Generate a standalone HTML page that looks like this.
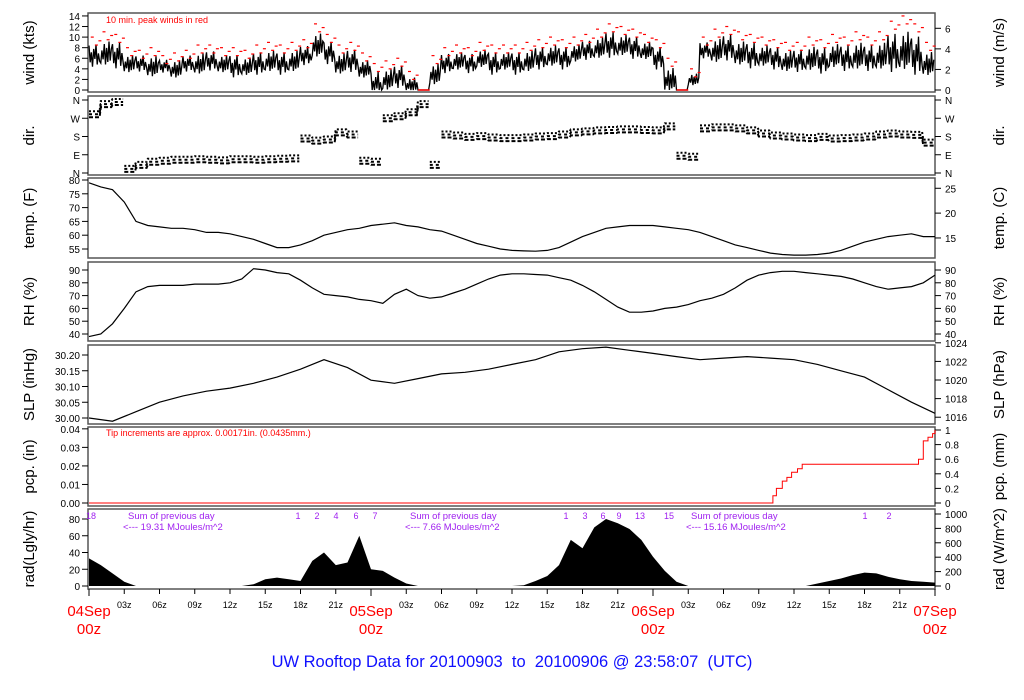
<!DOCTYPE html>
<html><head><meta charset="utf-8"><style>
body{margin:0;background:#fff;}
svg{display:block;font-family:"Liberation Sans",sans-serif;}
</style></head><body>
<svg id="c" width="1024" height="700" viewBox="0 0 1024 700"></svg>
<script>
const hours=[];for(let i=0;i<=72;i++)hours.push(i);
const windMean=[6.5,7,6.5,5,5,4.5,4.5,4,5,5,5.5,5,4.5,4.5,5,5.5,5,5.5,6.5,8.5,7,5,5.5,4,1,2,2.5,1,0,3,5,5.5,5,6,5,5.5,5,5.5,6,6.5,6,7,7.5,8,8.5,8.5,8,7.5,6,2,0,2,7.5,7.5,8,7,6.5,6.5,6,5.5,5.5,6,5.5,6.5,6,6.5,6,6.5,7,7.5,6.5,5];
const windPeak=[10,11,10.5,8,7.5,8,6.5,7,7.5,8.5,8.5,8,8,7.5,8.5,9,8.5,9,9.5,12.5,10.5,8.5,9,7,5,5.5,6,3.5,0,6.5,8,8.5,8,9,8.5,8.5,8.5,9,9.5,10,9.5,10,10.5,11.5,12.5,12,11.5,10.5,9.5,6,0,4,10,11.5,12,11,10.5,10,9.5,9,9,10,9.5,10.5,10,11,10,11,13,14,12.5,9];
const dirDeg=[290,340,350,20,40,55,60,65,65,68,65,62,68,68,65,68,70,72,170,160,165,200,190,60,55,270,280,300,340,40,190,185,178,182,175,172,172,175,180,182,190,200,205,210,212,215,215,212,210,230,85,80,220,225,225,220,210,195,185,180,175,172,178,170,172,175,180,190,195,190,188,150];
const tempF=[79,77.5,76.5,72,65,63.5,63,62.5,62.5,62,61,61,60.5,59.5,58.5,57,55.5,55.5,56.5,58,60,61,62,62.5,63.5,64,64.5,63.5,63,62,61.5,60,58.5,57,56,55,54.5,54.3,54.2,54.5,55.5,57.5,59.5,61,62.5,63,63.5,63.5,63.5,63,62.5,62,61,59.5,58,56.5,55.5,54.5,53.5,53,52.8,52.8,53,53.5,54.5,56,57.5,58.5,59.5,60,60.5,59.5,59.5];
const rhPct=[38,40,48,60,73,77,78,78,78,79,79,79,80,83,91,90,88,87,82,76,71,70,69,67,66,64,71,75,70,68,69,72,75,79,83,86,87,87,86.5,86,84,82,78,73,67,61,57,57,58,60,61,63,66,68,71,76,82,86,88,89,89,88,87,86,85,83,80,77,75,76,77,80,86];
const slpHours=[0,2,4,6,8,10,12,14,16,18,20,22,24,26,28,30,32,34,36,38,40,42,44,46,48,50,52,54,56,58,60,62,64,66,68,70,72];
const slpIn=[30.00,29.99,30.02,30.05,30.07,30.085,30.095,30.11,30.13,30.155,30.185,30.16,30.12,30.11,30.125,30.14,30.145,30.155,30.17,30.185,30.21,30.22,30.225,30.215,30.205,30.195,30.185,30.19,30.195,30.19,30.185,30.17,30.15,30.13,30.09,30.05,30.015];
const pcpHours=[0,57.8,58.2,58.5,59,59.4,59.8,60.3,60.7,70.3,70.6,71,71.4,71.8,72];
const pcpMM=[0,0,0.1,0.2,0.3,0.35,0.42,0.47,0.53,0.53,0.6,0.85,0.9,0.95,1.0];
const radLy=[33,25,15,5,0,0,0,0,0,0,0,0,0,0,2,8,10,8,6,30,40,25,28,60,20,18,10,3,0,0,0,0,0,0,0,0,0,1,6,12,25,55,45,70,80,75,68,55,35,18,5,0,0,0,0,0,0,0,0,0,0,0,3,6,9,13,16,15,11,8,6,5,4];
const hourTicks=[3,6,9,12,15,18,21,27,30,33,36,39,42,45,51,54,57,60,63,66,69];
const hourTickLabels=["03z","06z","09z","12z","15z","18z","21z","03z","06z","09z","12z","15z","18z","21z","03z","06z","09z","12z","15z","18z","21z"];
const dayTicks=[0,24,48,72];
const dayLabels=["04Sep","05Sep","06Sep","07Sep"];

const NS="http://www.w3.org/2000/svg";
const svg=document.getElementById('c');
const X=h=>89+h*(846/72);
function el(tag,attrs,parent){const e=document.createElementNS(NS,tag);for(const k in attrs)e.setAttribute(k,attrs[k]);(parent||svg).appendChild(e);return e;}
function txt(s,x,y,size,anchor,fill,rot){const t=el('text',{x:x,y:y,'font-size':size,'text-anchor':anchor||'start',fill:fill||'#000'});if(rot)t.setAttribute('transform','rotate(-90 '+x+' '+y+')');t.textContent=s;return t;}

const panels=[
 {n:'wind',t:13,b:92,l:'wind (kts)',r:'wind (m/s)'},
 {n:'dir',t:96,b:175,l:'dir.',r:'dir.'},
 {n:'temp',t:178,b:258,l:'temp. (F)',r:'temp. (C)'},
 {n:'rh',t:262,b:341,l:'RH (%)',r:'RH (%)'},
 {n:'slp',t:345,b:424,l:'SLP (inHg)',r:'SLP (hPa)'},
 {n:'pcp',t:427,b:506,l:'pcp. (in)',r:'pcp. (mm)'},
 {n:'rad',t:509,b:589,l:'rad(Lgly/hr)',r:'rad (W/m^2)'}
];
panels.forEach(p=>{
 const r=el('rect',{x:88,y:p.t,width:847,height:p.b-p.t,fill:'none',stroke:'#555','stroke-width':1.5});
 
 
 const m=(p.t+p.b)/2;
 const a=txt(p.l,34,m,15,'middle','#000',true);
 
 
 const b=txt(p.r,1004,m,15,'middle','#000',true);
 
 
});
function lt(y,s){el('line',{x1:82,y1:y,x2:88,y2:y,stroke:'#000'});const t=txt(s,80,y+4,10,'end');}
function rt(y,s){el('line',{x1:935,y1:y,x2:941,y2:y,stroke:'#000'});const t=txt(s,945,y+4,10,'start');}

const yW=v=>90-v*5.29, yD=d=>173-d/360*73, yT=f=>180+(80-f)*2.76, yR=r=>270+(90-r)*1.28,
 yS=p=>355+(30.20-p)*315, yP=mm=>503-mm*73, yRad=l=>586-l*0.8375;
for(let v=0;v<=14;v+=2)lt(yW(v),v);
for(let v=0;v<=6;v+=2)rt(yW(v*1.944),v);
['N','E','S','W','N'].forEach((s,i)=>{lt(yD(i*90),s);rt(yD(i*90),s);});
for(let v=55;v<=80;v+=5)lt(yT(v),v);
[15,20,25].forEach(c=>rt(yT(c*1.8+32),c));
for(let v=40;v<=90;v+=10){lt(yR(v),v);rt(yR(v),v);}
[30.00,30.05,30.10,30.15,30.20].forEach(v=>lt(yS(v),v.toFixed(2)));
[1016,1018,1020,1022,1024].forEach(v=>rt(yS(v*0.02953),v));
[0,0.01,0.02,0.03,0.04].forEach(v=>lt(yP(v*25.4),v.toFixed(2)));
[0,0.2,0.4,0.6,0.8,1].forEach(v=>rt(yP(v),v));
for(let v=0;v<=80;v+=20)lt(yRad(v),v);
for(let v=0;v<=1000;v+=200)rt(yRad(v/11.63),v);

const jig=[0.9,-0.6,0.3,-1,0.6,-0.3,1,-0.8,0.2,-0.5,0.7,-0.9,0.4,-0.7];
let pts=[];
windMean.forEach((m,h)=>{const amp=Math.max(0,(windPeak[h]-m))*0.6;
 for(let k=0;k<10;k++){const j=jig[(h*7+k)%jig.length];const v=m===0?0:Math.max(0,m+j*amp);pts.push(X(h+k/10).toFixed(1)+','+yW(v).toFixed(1));}});
const wl=el('polyline',{points:pts.join(' '),fill:'none',stroke:'#000','stroke-width':1.3});


windPeak.forEach((p,h)=>{
 if(p===0){const z=el('line',{x1:X(h),y1:yW(0),x2:X(h+1),y2:yW(0),stroke:'red','stroke-width':1.5});return;}
 [0.15,0.5,0.8].forEach((o,i)=>{const dv=p-[0,1.5,0.7][i];const d=el('line',{x1:X(h+o),y1:yW(dv),x2:X(h+o)+3,y2:yW(dv),stroke:'red','stroke-width':1.2});
 });
});
const wn=txt('10 min. peak winds in red',106,23,9,'start','red');


const off=[-3,0,3];
off.forEach((o,oi)=>{
 let seg=[];
 function flushDir(){if(seg.length>1){const d=el('polyline',{points:seg.join(' '),fill:'none',stroke:'#000','stroke-width':2,'stroke-dasharray':(2+oi)+' '+(2+oi%2)});}seg=[];}
 dirDeg.forEach((d,h)=>{if(h>0&&Math.abs(d-dirDeg[h-1])>60)flushDir();seg.push(X(h).toFixed(1)+','+(yD(d)+o).toFixed(1));seg.push(X(h+0.9).toFixed(1)+','+(yD(d)+o).toFixed(1));});
 flushDir();
});

function line(vals,xs,yf,name,color){const p=vals.map((v,i)=>X(xs[i]).toFixed(1)+','+yf(v).toFixed(1)).join(' ');const l=el('polyline',{points:p,fill:'none',stroke:color||'#000','stroke-width':1.2});return l;}
line(tempF,hours,yT,'temperature-line');
line(rhPct,hours,yR,'humidity-line');
line(slpIn,slpHours,yS,'pressure-line');
let pp=[];pcpMM.forEach((v,i)=>{if(i>0)pp.push(X(pcpHours[i]).toFixed(1)+','+yP(pcpMM[i-1]).toFixed(1));pp.push(X(pcpHours[i]).toFixed(1)+','+yP(v).toFixed(1));});
const pl=el('polyline',{points:pp.join(' '),fill:'none',stroke:'red','stroke-width':1});

const pn=txt('Tip increments are approx. 0.00171in. (0.0435mm.)',106,436,9,'start','red');

let rp=[X(0)+','+yRad(0)];radLy.forEach((v,h)=>rp.push(X(h).toFixed(1)+','+yRad(v).toFixed(1)));rp.push(X(72)+','+yRad(0));
const ra=el('polygon',{points:rp.join(' '),fill:'#000'});

[[185,'<--- 19.31 MJoules/m^2'],[467,'<--- 7.66 MJoules/m^2'],[748,'<--- 15.16 MJoules/m^2']].forEach(a=>{
 const t1=txt('Sum of previous day',a[0]-57,519,9.5,'start','#a020f0');
 const t2=txt(a[1],a[0]-62,530,9.5,'start','#a020f0');});
[[91,'18'],[298,'1'],[317,'2'],[336,'4'],[356,'6'],[375,'7'],[566,'1'],[585,'3'],[603,'6'],[619,'9'],[640,'13'],[669,'15'],[865,'1'],[889,'2']].forEach(a=>{const t=txt(a[1],a[0],519,9,'middle','#a020f0');});

hourTicks.forEach((h,i)=>{el('line',{x1:X(h),y1:589,x2:X(h),y2:594,stroke:'#000'});const t=txt(hourTickLabels[i],X(h),608,9,'middle');});
dayTicks.forEach((h,i)=>{el('line',{x1:X(h),y1:589,x2:X(h),y2:596,stroke:'#000'});
 const a=txt(dayLabels[i],X(h),616,15,'middle','red');
 const b=txt('00z',X(h),634,15,'middle','red');});
const ti=txt('UW Rooftop Data for 20100903  to  20100906 @ 23:58:07  (UTC)',512,667,16.5,'middle','#1010ff');
ti.setAttribute('xml:space','preserve');ti.style.whiteSpace='pre';

</script>
</body></html>
